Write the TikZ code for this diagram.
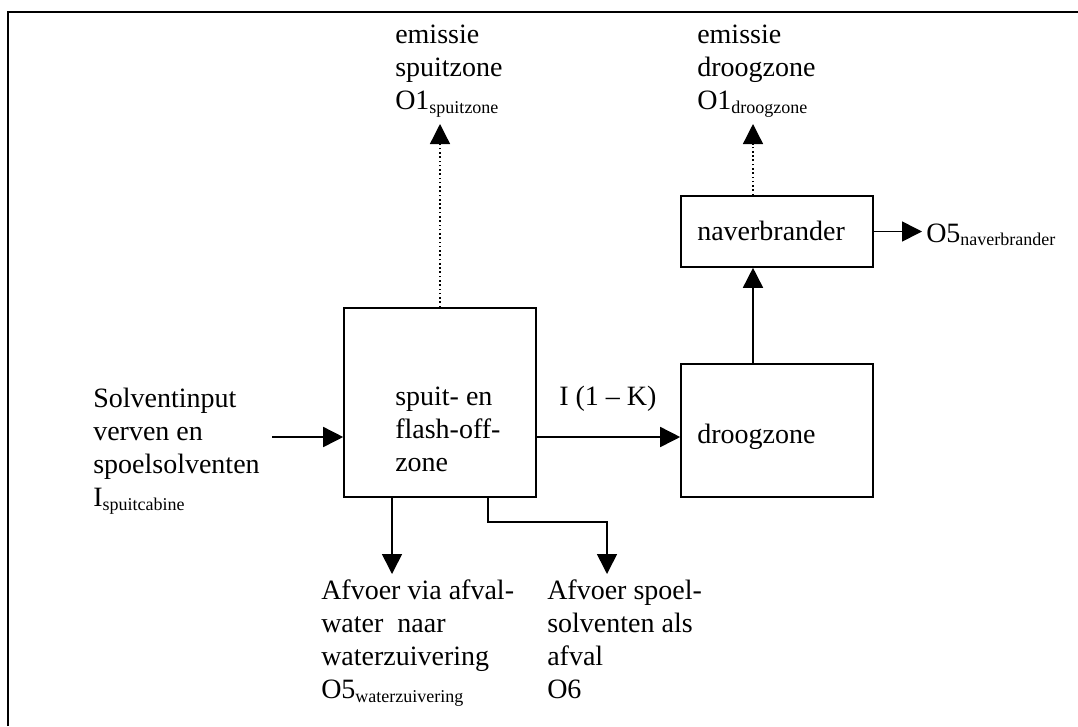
\documentclass[tikz,border=0pt]{standalone}
\usepackage{fontspec}
\setmainfont{Liberation Serif}
\usetikzlibrary{arrows.meta}
\newcommand\onder[1]{\raisebox{-2.5pt}{\fontsize{13.5}{13.5}\selectfont #1}}

\begin{document}
\begin{tikzpicture}[x=0.75pt, y=-0.75pt,
    every node/.style={font=\fontsize{21}{24.75}\selectfont, inner sep=0pt},
    blok/.style={draw, line width=1.2pt, minimum width=144pt},
    tekst/.style={align=left, anchor=north west},
    pijl/.style={line width=1.2pt, -{Triangle[length=15pt, width=15pt]}},
    emissie/.style={pijl, dotted, line width=1pt}
]
\useasboundingbox (0,0) rectangle (1078,726);
% Kader (rechts en onder buiten beeld)
\draw[line width=1.3pt] (8,726) |- (1078,12);
% Blokken
\node[blok, minimum height=141.75pt] (spuitzone) at (440,402.5) {};
\node[blok, minimum height=99.75pt] (droogzone) at (777,430.5) {};
\node[blok, minimum height=53.25pt] (naverbrander) at (777,231.5) {};
% Teksten in de blokken
\node[tekst] (spuitTxt) at (395,387) {spuit- en\\flash-off-\\zone};
\node[anchor=base west] (droogTxt) at (697,443) {droogzone};
\node[anchor=base west] (naverTxt) at (697,240) {naverbrander};
% Ingang en uitgangen
\node[tekst] (input) at (93,388) {Solventinput\\verven en\\spoelsolventen\\I\onder{spuitcabine}};
\node[tekst] (emisSpuit) at (395,25) {emissie\\spuitzone\\O1\onder{spuitzone}};
\node[tekst] (emisDroog) at (697,25) {emissie\\droogzone\\O1\onder{droogzone}};
\node[anchor=base west] (fractie) at (559,405) {I (1 -- K)};
\node[anchor=base west] (o5naver) at (926,242) {O5\onder{naverbrander}};
\node[tekst] (afvalwater) at (321,580) {Afvoer via afval-\\water\ \ naar\\waterzuivering\\O5\onder{waterzuivering}};
\node[tekst] (afval) at (547,580) {Afvoer spoel-\\solventen als\\afval\\O6};
% Hulppunten
\coordinate (inStart) at (272,437);
\coordinate (doorStart) at (536,437);
\coordinate (omhoog) at (753,364);
\coordinate (emisTop1) at (440,124);
\coordinate (emisTop2) at (753,124);
\coordinate (o5Tip) at (922,231.5);
\coordinate (afv1) at (392,497);
\coordinate (afv2) at (488,497);
\coordinate (afv1Tip) at (392,574);
\coordinate (afv2Tip) at (607,574);
% Pijlen
\draw[pijl] (inStart) -- (inStart -| spuitzone.west);
\draw[pijl] (doorStart) -- (doorStart -| droogzone.west);
\draw[pijl] (omhoog) -- (omhoog |- naverbrander.south);
\draw[pijl] (naverbrander.east) -- (o5Tip);
\draw[emissie] (spuitzone.north) -- (emisTop1);
\draw[emissie] (omhoog |- naverbrander.north) -- (emisTop2);
\draw[pijl] (afv1) -- (afv1Tip);
\draw[pijl] (afv2) |- (afv2 |- 0,522) -| (afv2Tip);
\end{tikzpicture}
\end{document}
